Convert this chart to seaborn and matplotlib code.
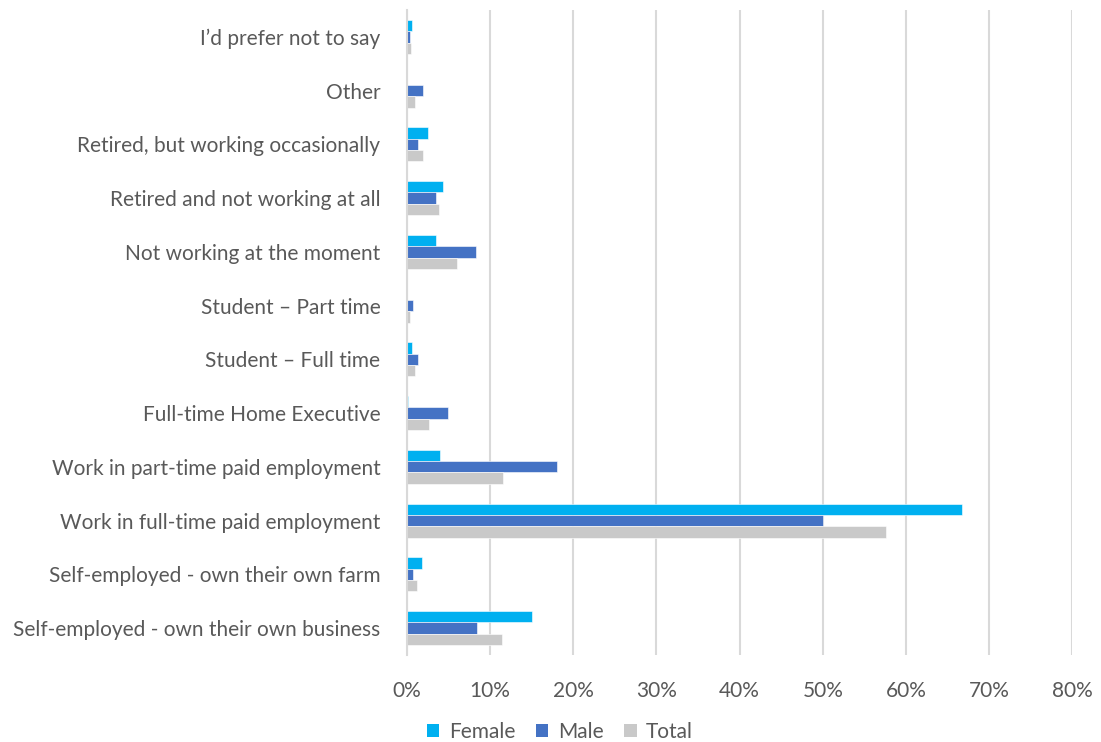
import matplotlib
matplotlib.use("Agg")
import matplotlib.pyplot as plt
from matplotlib.patches import Patch
from matplotlib.ticker import PercentFormatter, MultipleLocator
import pandas as pd
import seaborn as sns

categories = [
    "I\u2019d prefer not to say",
    "Other",
    "Retired, but working occasionally",
    "Retired and not working at all",
    "Not working at the moment",
    "Student \u2013 Part time",
    "Student \u2013 Full time",
    "Full-time Home Executive",
    "Work in part-time paid employment",
    "Work in full-time paid employment",
    "Self-employed - own their own farm",
    "Self-employed - own their own business",
]
female = [0.6, 0.0, 2.6, 4.4, 3.5, 0.0, 0.6, 0.1, 4.0, 66.7, 1.8, 15.0]
male = [0.4, 2.0, 1.3, 3.5, 8.3, 0.7, 1.3, 5.0, 18.0, 50.0, 0.7, 8.4]
total = [0.5, 1.0, 1.9, 3.9, 6.1, 0.4, 1.0, 2.7, 11.6, 57.6, 1.2, 11.5]

groups = ["Female", "Male", "Total"]
colors = {"Female": "#00B0F0", "Male": "#4472C4", "Total": "#C9C9C9"}
text_color = "#595959"
grid_color = "#D9D9D9"

df = pd.DataFrame({
    "category": categories * 3,
    "group": [g for g in groups for _ in categories],
    "value": [v / 100 for v in female + male + total],
})

sns.set_theme(style="white")
plt.rcParams["font.family"] = ["Lato", "DejaVu Sans"]

fig = plt.figure(figsize=(11.01, 7.42), dpi=100)
ax = fig.add_axes([0.3694, 0.1173, 0.6047, 0.8692])

sns.barplot(
    data=df, y="category", x="value", hue="group",
    order=categories, hue_order=groups, palette=colors, saturation=1,
    orient="h", width=0.63, gap=0, ax=ax, legend=False,
    edgecolor="white", linewidth=0.4,
)

ax.set_xlim(0, 0.8)
ax.set_ylim(len(categories) - 0.5, -0.5)
ax.xaxis.set_major_locator(MultipleLocator(0.1))
ax.xaxis.set_major_formatter(PercentFormatter(1.0, decimals=0))
ax.grid(axis="x", color=grid_color, linewidth=1.5)
ax.set_axisbelow(True)
for side in ("top", "right", "bottom"):
    ax.spines[side].set_visible(False)
ax.spines["left"].set_color(grid_color)
ax.spines["left"].set_linewidth(1.5)

ax.set_xlabel("")
ax.set_ylabel("")
ax.tick_params(axis="x", length=0, pad=19, labelsize=15, labelcolor=text_color)
ax.tick_params(axis="y", length=0, pad=19, labelsize=15, labelcolor=text_color)

handles = [Patch(facecolor=colors[g], edgecolor="none", label=g) for g in groups]
fig.legend(
    handles=handles, loc="center", bbox_to_anchor=(0.5086, 0.014),
    ncol=3, frameon=False, fontsize=15, labelcolor=text_color,
    handlelength=0.6, handleheight=0.6, handletextpad=0.45, columnspacing=1.0,
)

fig.savefig("out.png", dpi=100, facecolor="white")
